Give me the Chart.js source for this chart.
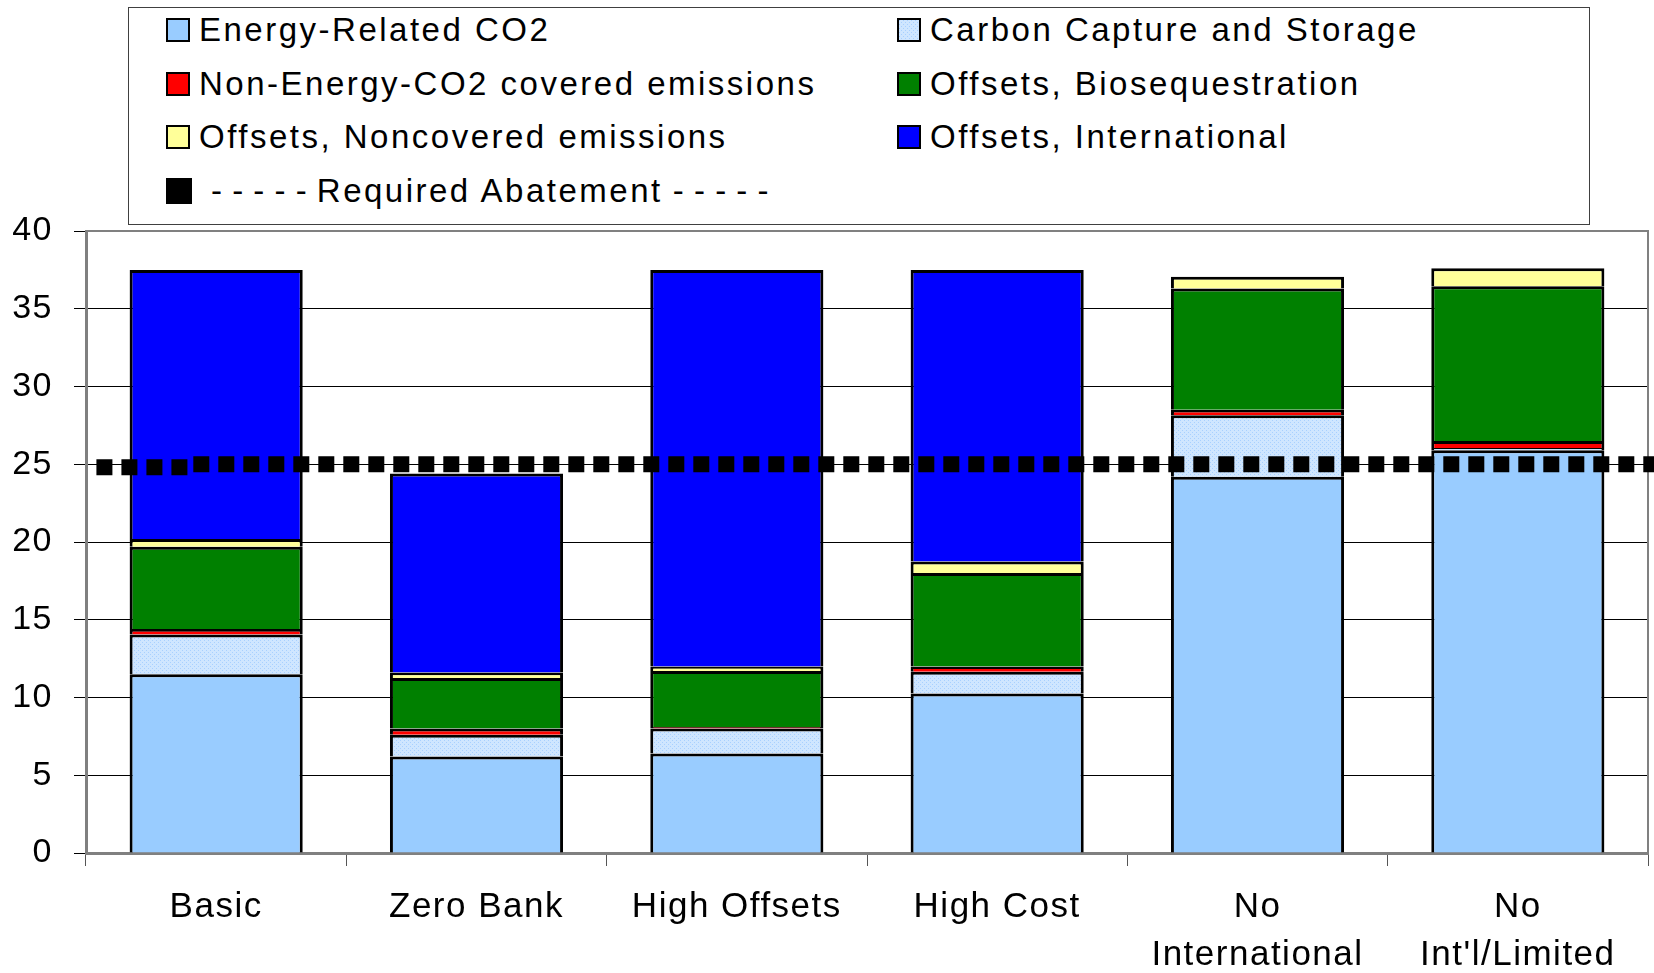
<!DOCTYPE html>
<html>
<head>
<meta charset="utf-8">
<title>Abatement by scenario</title>
<script src="https://cdn.jsdelivr.net/npm/chart.js@4/dist/chart.umd.min.js"></script>
<style>
body { margin: 0; background: #fff; }
#wrap { position: relative; width: 1654px; height: 973px; overflow: hidden; }
#legend {
    position: absolute; left: 128px; top: 7px; width: 1460px; height: 216px;
    border: 1px solid #404040; background: #fff;
    font-family: "Liberation Sans", Arial, sans-serif; font-size: 33px; letter-spacing: 2.5px; color: #000;
}
#legend .item { position: absolute; display: flex; align-items: center; white-space: nowrap; height: 40px; }
#legend .box { width: 20px; height: 20px; border: 2px solid #000; margin-right: 9px; }
#legend .box.solid { width: 26px; height: 26px; border: 0; background: #000; margin-right: 19px; }
#legend .dash { letter-spacing: 0; word-spacing: 1px; }
</style>
</head>
<body>
<div id="wrap">
    <canvas id="abatementChart" width="1654" height="973"></canvas>
    <div id="legend"></div>
</div>
<script>
/*
==================================
    Data
==================================
*/
var categories = ['Basic', 'Zero Bank', 'High Offsets', 'High Cost', ['No', 'International'], ['No', "Int'l/Limited"]];
var energyCO2     = [11.5, 6.2, 6.4, 10.25, 24.2, 25.9];
var ccs           = [2.55, 1.4, 1.6, 1.4, 3.95, 0.15];
var nonEnergyCO2  = [0.35, 0.4, 0.1, 0.35, 0.35, 0.45];
var bioseq        = [5.3, 3.25, 3.6, 6.0, 7.8, 9.95];
var noncovered    = [0.5, 0.35, 0.3, 0.75, 0.75, 1.15];
var international = [17.3, 12.8, 25.5, 18.75, 0, 0];
// required abatement, x in category units (-0.5 .. 5.5)
var abatementX = [-0.46, -0.1, -0.1, 5.53];
var abatementY = [24.8, 24.8, 25, 25];
var yTicks = { min: 0, max: 40, step: 5 };

/*
==================================
    Helpers
==================================
*/
var FONT = '"Liberation Sans", Arial, sans-serif';

function dottedTile(){
    var c = document.createElement('canvas');
    c.width = 4; c.height = 4;
    var g = c.getContext('2d');
    g.fillStyle = '#cfe6ff'; g.fillRect(0, 0, 4, 4);
    g.fillStyle = '#a8d0ff'; g.fillRect(0, 0, 1, 1); g.fillRect(2, 2, 1, 1);
    return c;
}
var tile = dottedTile();
var ctx = document.getElementById('abatementChart').getContext('2d');
var ccsFill = ctx.createPattern(tile, 'repeat');

function barSet(label, data, color){
    return {
        type: 'bar', label: label, data: data, backgroundColor: color,
        borderColor: '#000', borderWidth: 3, borderSkipped: 'start',
        stack: 'total', grouped: false, order: 1
    };
}

var abatementPoints = abatementX.map(function(x, i){ return { x: x, y: abatementY[i] }; });

/*
==================================
    Plugins
==================================
*/
var letterSpacing = {
    id: 'letterSpacing',
    beforeDraw: function(chart){ chart.ctx.letterSpacing = '1.5px'; }
};
var plotFrame = {
    id: 'plotFrame',
    beforeDatasetsDraw: function(chart){
        var a = chart.chartArea, c = chart.ctx;
        c.save();
        c.strokeStyle = '#808080';
        c.lineWidth = 2;
        c.beginPath();
        c.moveTo(a.left, a.top);
        c.lineTo(a.right, a.top);
        c.lineTo(a.right, a.bottom);
        c.stroke();
        c.restore();
    }
};

/*
==================================
    Chart
==================================
*/
var chart = new Chart(ctx, {
    data: {
        labels: categories,
        datasets: [
            barSet('Energy-Related CO2', energyCO2, '#99ccff'),
            barSet('Carbon Capture and Storage', ccs, ccsFill),
            barSet('Non-Energy-CO2 covered emissions', nonEnergyCO2, '#ff0000'),
            barSet('Offsets, Biosequestration', bioseq, '#008000'),
            barSet('Offsets, Noncovered emissions', noncovered, '#ffff99'),
            barSet('Offsets, International', international, '#0000ff'),
            {
                type: 'line', label: '- - - - - Required Abatement - - - - -',
                data: abatementPoints, xAxisID: 'x2', stack: 'abatement', order: 0,
                borderColor: '#000', borderWidth: 16, borderDash: [16, 9], borderCapStyle: 'butt',
                pointRadius: 0, fill: false, tension: 0, clip: false
            }
        ]
    },
    options: {
        responsive: false,
        animation: false,
        devicePixelRatio: 1,
        layout: { padding: { top: 231, right: 6, bottom: 0, left: 0 } },
        datasets: { bar: { barPercentage: 0.665, categoryPercentage: 1 } },
        plugins: { legend: { display: false }, tooltip: { enabled: false } },
        scales: {
            x: {
                stacked: true,
                offset: true,
                ticks: { font: { family: FONT, size: 35, lineHeight: 1.37 }, color: '#000', padding: 17, maxRotation: 0, autoSkip: false },
                grid: { offset: true, drawOnChartArea: false, tickLength: 13, color: '#555' },
                border: { color: '#808080', width: 3 },
                afterFit: function(s){ s.height = 120; }
            },
            x2: { type: 'linear', min: -0.5, max: 5.5, display: false },
            y: {
                stacked: true,
                min: yTicks.min, max: yTicks.max,
                ticks: { stepSize: yTicks.step, font: { family: FONT, size: 34 }, color: '#000', padding: 21 },
                grid: { color: '#000', lineWidth: 1, tickLength: 12 },
                border: { color: '#808080', width: 3 },
                afterFit: function(s){ s.width = 86; }
            }
        }
    },
    plugins: [letterSpacing, plotFrame]
});

/*
==================================
    Legend (two columns)
==================================
*/
var legend = document.getElementById('legend');
chart.data.datasets.forEach(function(ds, i){
    var item = document.createElement('div');
    item.className = 'item';
    item.style.left = (37 + (i % 2) * 731) + 'px';
    item.style.top = (2 + Math.floor(i / 2) * 53.5) + 'px';
    var box = document.createElement('span');
    box.className = 'box';
    if (ds.type === 'line') {
        box.className += ' solid';
    } else if (typeof ds.backgroundColor === 'string') {
        box.style.background = ds.backgroundColor;
    } else {
        box.style.backgroundImage = 'url(' + tile.toDataURL() + ')';
    }
    item.appendChild(box);
    var text = document.createElement('span');
    // dashes in the line label are set tighter than the words
    ds.label.split(/(\s*(?:- )+-?\s*)/).forEach(function(part){
        if (!part) return;
        var s = document.createElement('span');
        if (/^[\s-]+$/.test(part)) s.className = 'dash';
        s.textContent = part;
        text.appendChild(s);
    });
    item.appendChild(text);
    legend.appendChild(item);
});
</script>
</body>
</html>
